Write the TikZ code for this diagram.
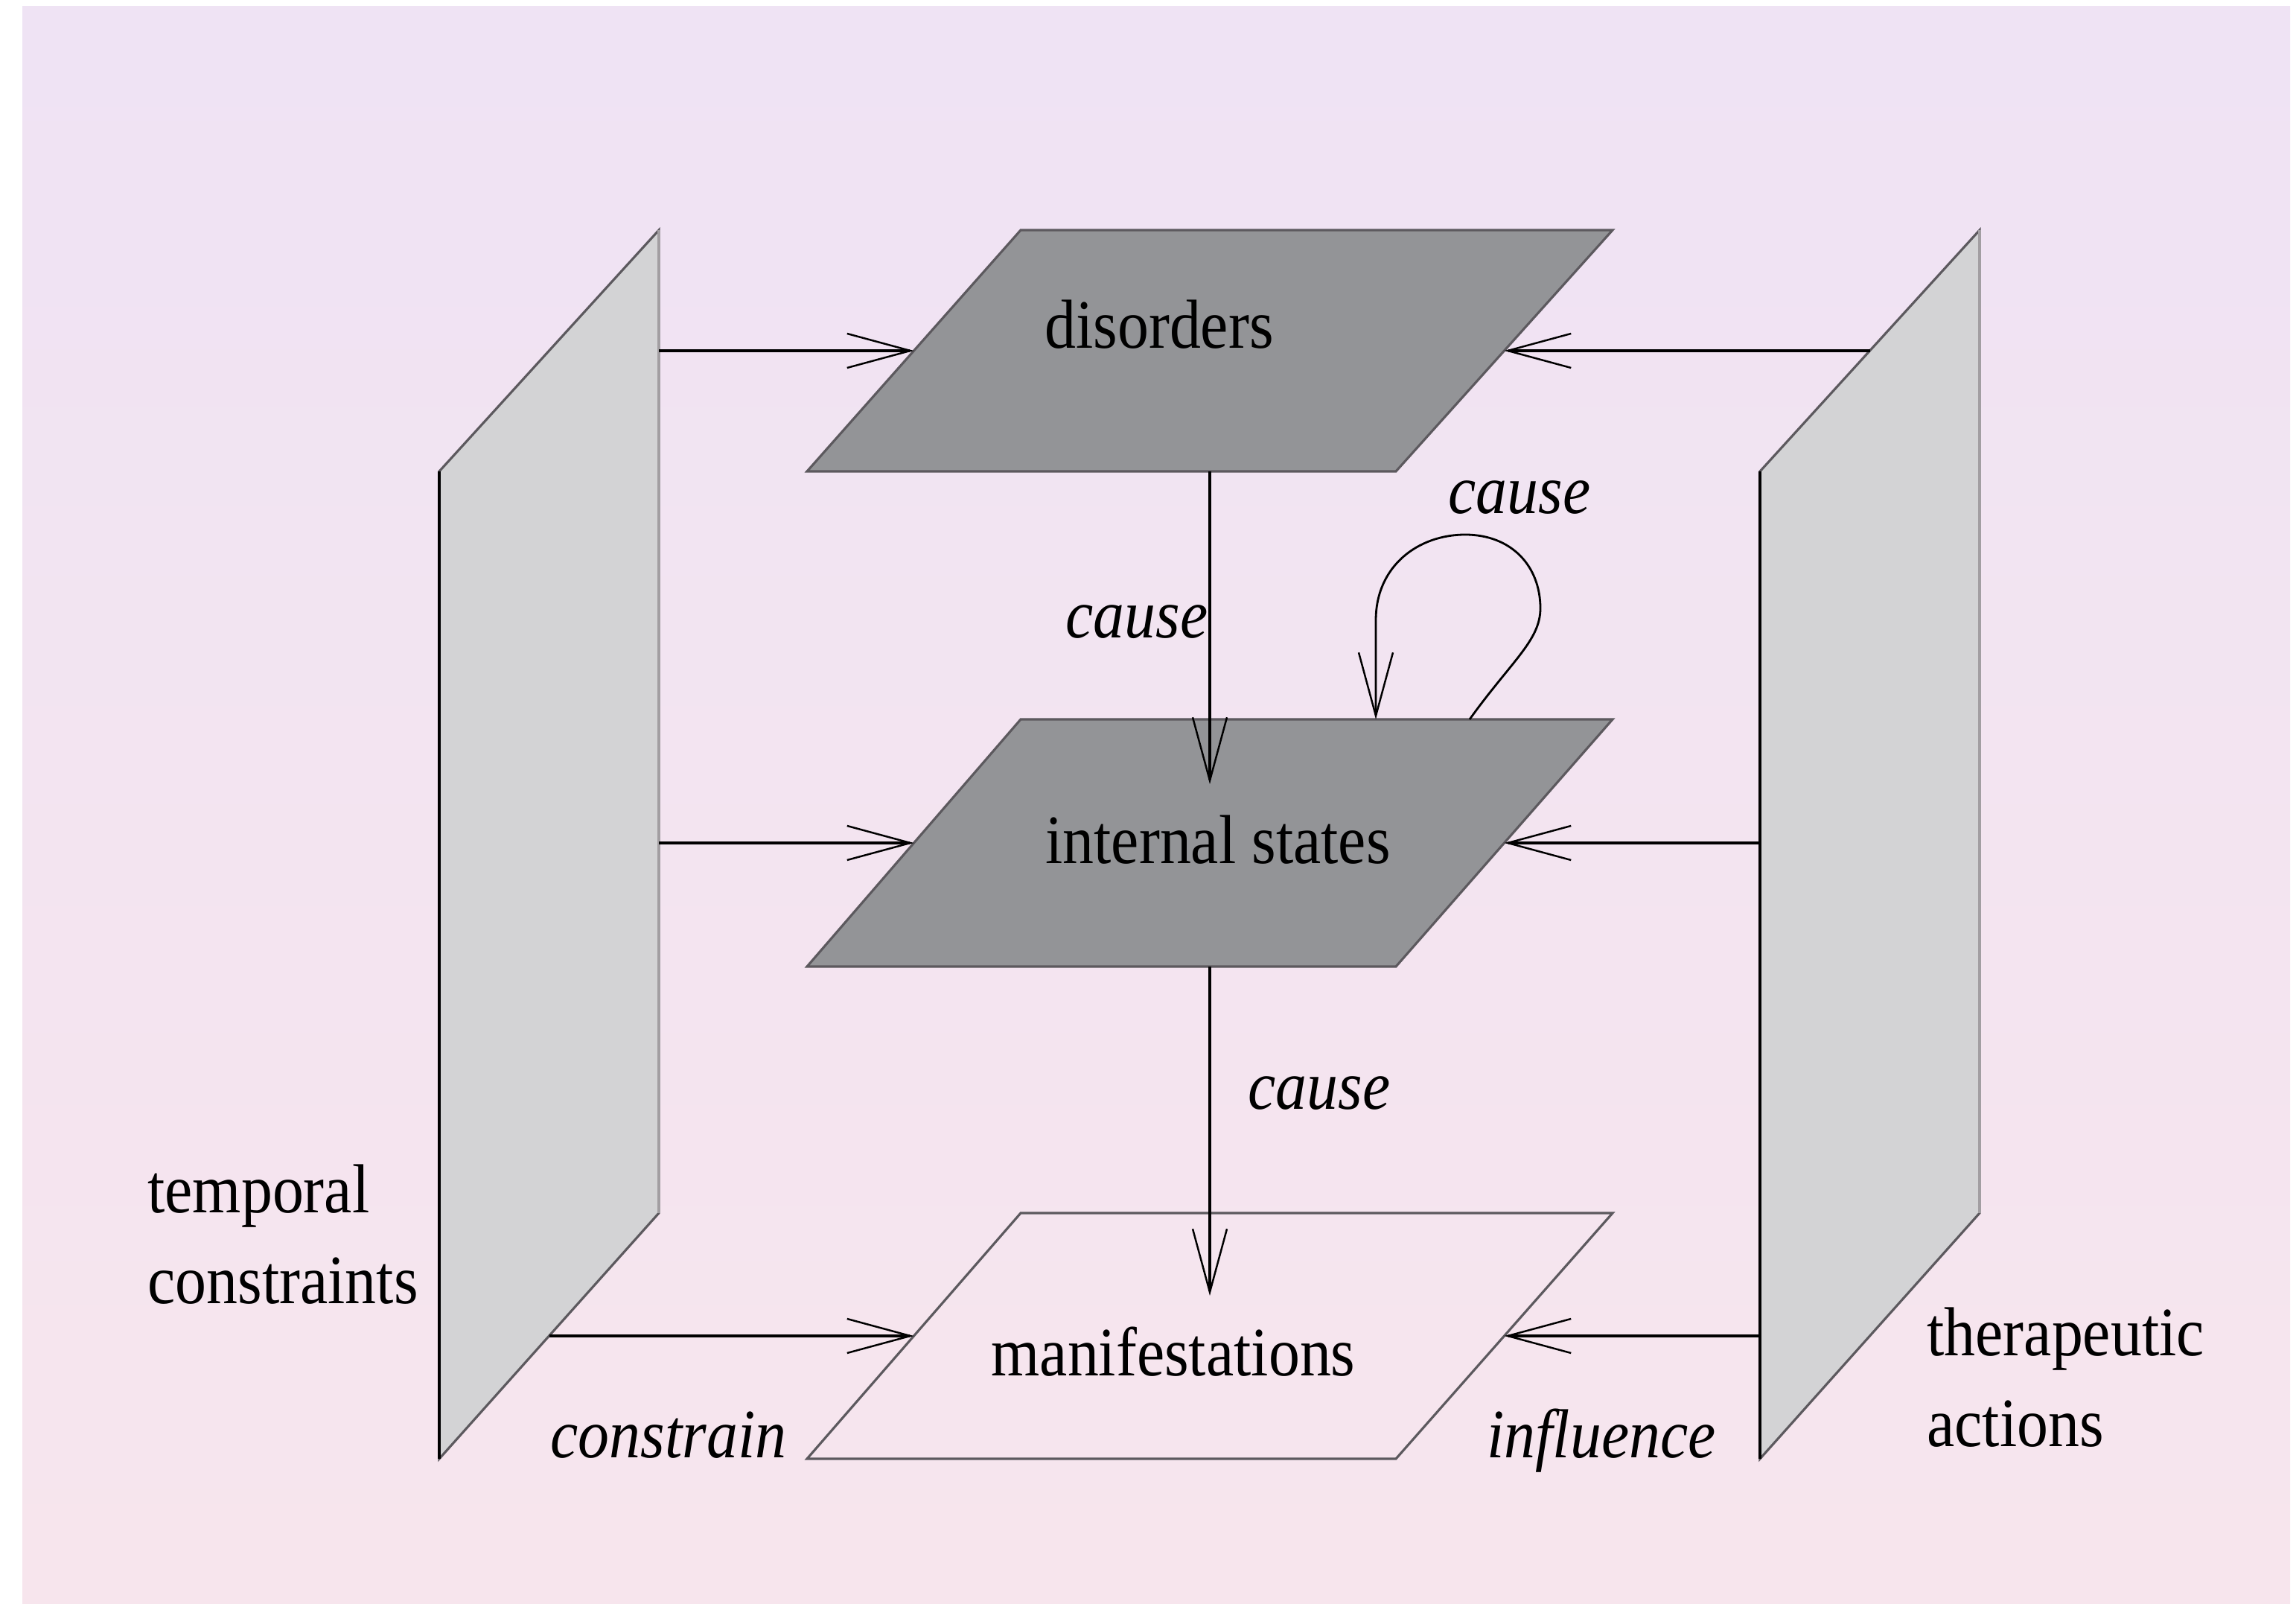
\documentclass[tikz,border=0pt]{standalone}
\usepackage{fontspec}
\setmainfont{Liberation Serif}[FakeStretch=0.9]
\usepackage{tikz}
\usetikzlibrary{arrows.meta,calc}
\definecolor{bgtop}{RGB}{239,227,244}
\definecolor{bgbottom}{RGB}{247,229,237}
\definecolor{layergray}{RGB}{147,148,151}
\definecolor{panelgray}{RGB}{211,211,213}
\definecolor{edgegray}{RGB}{92,89,94}
\definecolor{rimgray}{RGB}{162,158,162}
\newcommand{\lblsize}{\fontsize{26.5pt}{34.5pt}\selectfont}

\begin{document}
\begin{tikzpicture}[font=\lblsize, >={Straight Barb[length=8.5mm, width=4.6mm, line width=0.7pt]},
  layer/.style={draw=edgegray, line width=0.9pt},
  panel/.style={draw=edgegray, fill=panelgray, line width=0.9pt},
  link/.style={->, line width=1.1pt},
  rel/.style={font=\lblsize\itshape, anchor=base}]
\useasboundingbox (0,0) rectangle (30.84,21.53);
\fill[top color=bgtop, bottom color=bgbottom] (0.30,0) rectangle (30.76,21.44);
% LEFT: temporal constraints
\draw[panel] (5.90,1.94) coordinate (tc-bl) -- (8.85,5.24) coordinate (tc-br) -- (8.85,18.44) coordinate (tc-tr) -- (5.90,15.20) coordinate (tc-tl) -- cycle;
\draw[line width=1.1pt] (tc-bl) -- (tc-tl);
\draw[draw=rimgray, line width=1.2pt] (tc-br) -- (tc-tr);
\node[anchor=base west, align=left] (tc) at (1.86,4.03) {temporal\\constraints};
% RIGHT: therapeutic actions
\draw[panel] (23.64,1.94) coordinate (ta-bl) -- (26.59,5.24) coordinate (ta-br) -- (26.59,18.44) coordinate (ta-tr) -- (23.64,15.20) coordinate (ta-tl) -- cycle;
\draw[line width=1.1pt] (ta-bl) -- (ta-tl);
\draw[draw=rimgray, line width=1.2pt] (ta-br) -- (ta-tr);
\node[anchor=base west, align=left] (ta) at (25.76,2.11) {therapeutic\\actions};
% MIDDLE: the three layers
\draw[layer, fill=layergray] (10.84,15.20) coordinate (dis-bl) -- (18.75,15.20) coordinate (dis-br) -- (21.66,18.44) coordinate (dis-tr) -- (13.71,18.44) coordinate (dis-tl) -- cycle;
\draw[layer, fill=layergray] (10.84,8.55) coordinate (int-bl) -- (18.75,8.55) coordinate (int-br) -- (21.66,11.87) coordinate (int-tr) -- (13.71,11.87) coordinate (int-tl) -- cycle;
\draw[layer] (10.84,1.94) coordinate (man-bl) -- (18.75,1.94) coordinate (man-br) -- (21.66,5.24) coordinate (man-tr) -- (13.71,5.24) coordinate (man-tl) -- cycle;
\foreach \n in {dis,int,man} {
  \coordinate (\n-w) at ($(\n-bl)!.5!(\n-tl)$);
  \coordinate (\n-e) at ($(\n-br)!.5!(\n-tr)$);
}
\node[anchor=base] (dis) at (15.57,16.85) {disorders};
\node[anchor=base] (int) at (16.36,9.93) {internal states};
\node[anchor=base] (man) at (15.76,3.06) {manifestations};
% side arrows
\foreach \n in {dis,int} {\draw[link] (tc-tr |- \n-w) -- (\n-w);}
\draw[link] ($(tc-bl)!.5!(tc-br)$) -- (man-w);
\draw[link] ($(ta-tl)!.5!(ta-tr)$) -- (dis-e);
\foreach \n in {int,man} {\draw[link] (ta-bl |- \n-e) -- (\n-e);}
\node[rel] (cons) at (8.98,1.96) {constrain};
\node[rel] (infl) at (21.51,1.96) {influence};
% causal arrows
\coordinate (int-in) at (16.25,11.00);
\coordinate (man-in) at (16.25,4.13);
\draw[link] (dis-bl -| int-in) -- (int-in);
\draw[link] (int-bl -| man-in) -- (man-in);
\node[rel] (c1) at (15.27,12.96) {cause};
\node[rel] (c2) at (17.72,6.64) {cause};
% self loop on internal states
\coordinate (loop-out) at (19.74,11.87);
\coordinate (loop-in) at (18.48,11.87);
\draw[->, line width=0.8pt] (loop-out) .. controls (20.30,12.65) and (20.69,12.93) .. (20.69,13.36)
  .. controls (20.69,13.93) and (20.30,14.35) .. (19.68,14.35)
  .. controls (19.05,14.35) and (18.48,13.93) .. (18.48,13.20) -- (loop-in);
\node[rel] (c3) at (20.41,14.63) {cause};
\end{tikzpicture}
\end{document}
